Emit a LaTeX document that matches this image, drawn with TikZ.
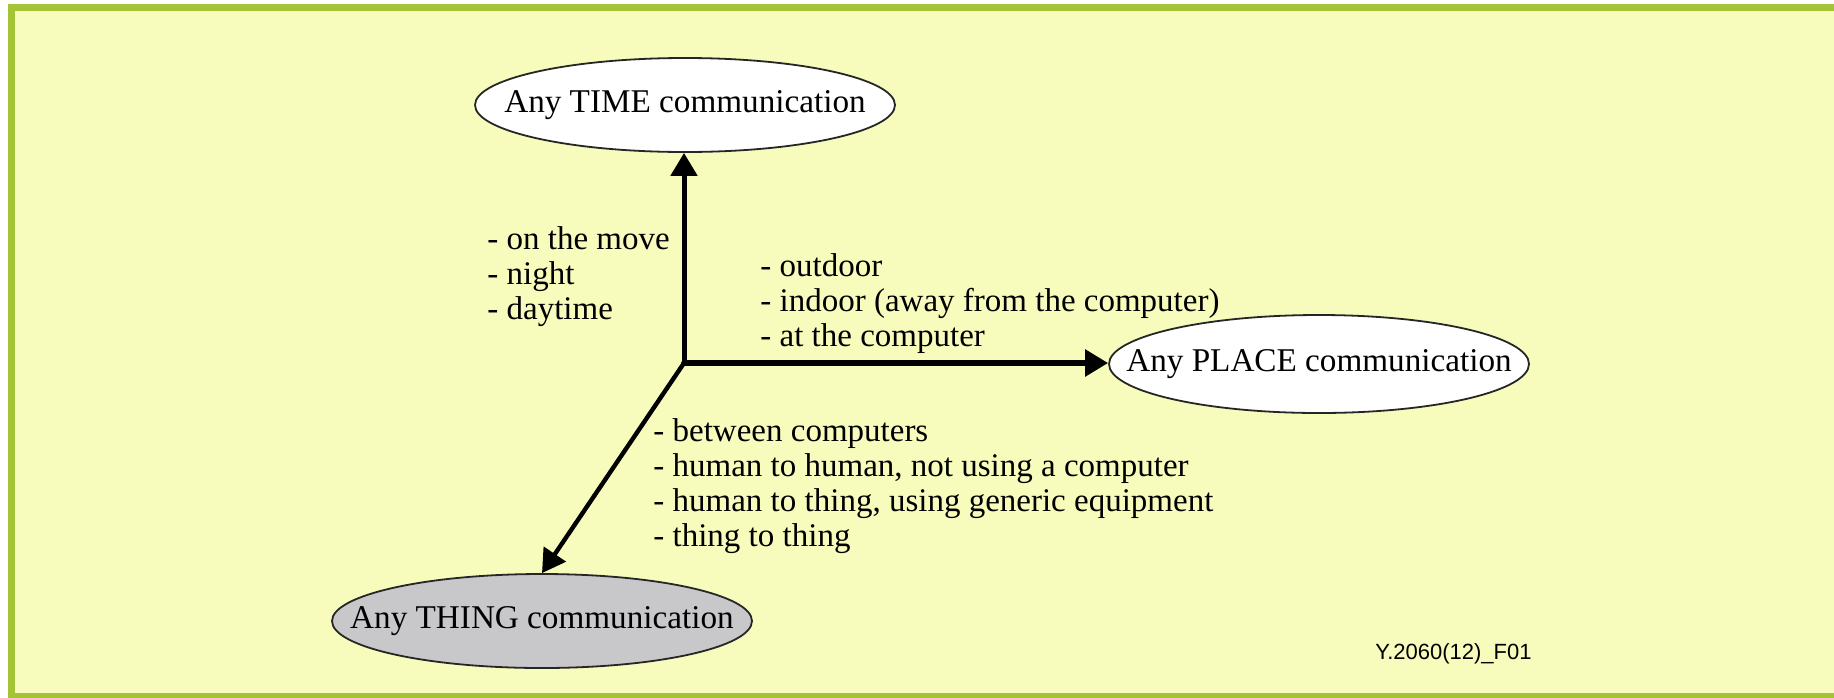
\documentclass[tikz,border=0pt]{standalone}
\usepackage{fontspec}
\setmainfont{Liberation Serif}
\newfontfamily\tagfont{Liberation Sans}
\usetikzlibrary{shapes.geometric,arrows.meta}
\definecolor{panelfill}{RGB}{247,252,188}
\definecolor{panelrule}{RGB}{165,195,55}
\definecolor{thingfill}{RGB}{200,200,202}
\newcommand{\ovaltext}[1]{\makebox[0pt]{#1}}
\begin{document}
\begin{tikzpicture}[x=0.5pt,y=-0.5pt,
  oval/.style={ellipse,draw=black!85,line width=0.9pt,fill=white,
    minimum width=210pt,minimum height=47pt,inner sep=0pt,
    font=\fontsize{16.6}{17.5}\selectfont},
  axis/.style={line width=2.5pt,line cap=round,
    -{Triangle[length=11.5pt,width=13pt]}},
  notes/.style={align=left,anchor=west,inner sep=0pt,
    font=\fontsize{16.5}{17.5}\selectfont}]
\useasboundingbox (0,0) rectangle (1834,697);
\clip (0,0) rectangle (1834,697);
\fill[white] (0,0) rectangle (1834,697);
% panel
\draw[panelrule,fill=panelfill,line width=3.5pt] (11.5,7) rectangle (1870,696);

% the three "any" ovals
\node[oval] (time) at (685,105) {\ovaltext{Any TIME communication}};
\node[oval,minimum height=49pt] (place) at (1319,364) {\ovaltext{Any PLACE communication}};
\node[oval,fill=thingfill] (thing) at (542,621) {\ovaltext{Any THING communication}};

% axes from the common origin
\coordinate (o) at (684,363);
\draw[axis] (o) -- (o |- time.south);
\draw[axis,line width=2.8pt] (o) -- (o -| place.west);
\draw[axis,line width=2.2pt] (o) -- (thing.north);

% axis notes
\node[notes] (when) at (487,277) {- on the move\\- night\\- daytime};
\node[notes] (where) at (760,304) {- outdoor\\- indoor (away from the computer)\\- at the computer};
\node[notes] (what) at (653,486) {- between computers\\- human to human, not using a computer\\- human to thing, using generic equipment\\- thing to thing};

% figure tag
\node[anchor=west,inner sep=0pt,font=\tagfont\fontsize{11}{13}\selectfont] (tag) at (1375,654) {Y.2060(12)\_F01};
\end{tikzpicture}
\end{document}
